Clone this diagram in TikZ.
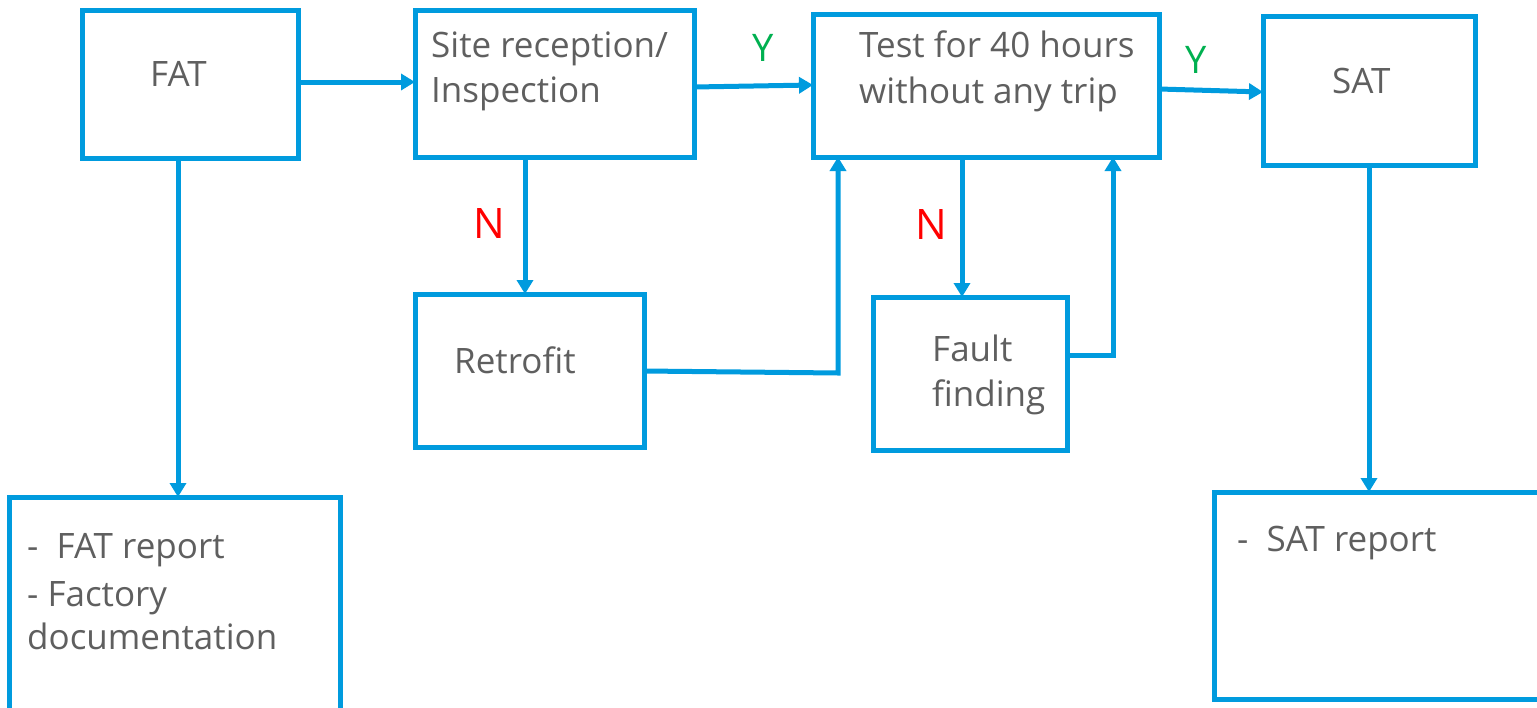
\documentclass[tikz,border=0pt]{standalone}
\usepackage{fontspec}
\setmainfont{Open Sans}
\usetikzlibrary{arrows.meta}
\definecolor{lineblue}{RGB}{0,155,222}
\definecolor{txtgrey}{RGB}{95,95,95}
\definecolor{ygreen}{RGB}{0,176,80}
\definecolor{nred}{RGB}{255,0,0}
\begin{document}
\begin{tikzpicture}[x=1pt,y=-1pt,
  box/.style={draw=lineblue,line width=5pt,inner sep=0pt,outer sep=0pt},
  conn/.style={draw=lineblue,line width=5pt},
  arr/.style={conn,-{Triangle[length=14pt,width=16pt]}},
  txt/.style={anchor=base west,inner sep=0pt,text=txtgrey,font=\fontsize{35}{45}\selectfont},
  yes/.style={anchor=base,inner sep=0pt,text=ygreen,font=\fontsize{38}{40}\selectfont},
  no/.style={anchor=base,inner sep=0pt,text=nred,font=\fontsize{42}{44}\selectfont}]
\useasboundingbox (0,0) rectangle (1537,707);
% boxes
\newcommand{\mkbox}[5]{\node[box,minimum width={#4-#2},minimum height={#5-#3}] (#1) at ({(#2+#4)/2},{(#3+#5)/2}) {};}
\mkbox{fat}{82}{10}{298}{158}
\mkbox{site}{415}{10}{694}{157}
\mkbox{test}{813}{14}{1159}{157}
\mkbox{sat}{1263}{16}{1475}{165}
\mkbox{retro}{415}{294}{644}{447}
\mkbox{fault}{873}{297}{1067}{450}
\mkbox{fatrep}{9}{497}{340}{722}
\mkbox{satrep}{1214}{492}{1550}{699}
% texts
\node[txt] (tfat) at (150,86) {FAT};
\node[txt] (tsite1) at (431,57) {Site reception/};
\node[txt] (tsite2) at (431,102) {Inspection};
\node[txt] (ttest1) at (859,57) {Test for 40 hours};
\node[txt] (ttest2) at (859,103) {without any trip};
\node[txt] (tsat) at (1332,93) {SAT};
\node[txt] (tretro) at (454,373) {Retrofit};
\node[txt] (tfault1) at (932,361) {Fault};
\node[txt] (tfault2) at (932,406) {finding};
\node[txt] (tfr1) at (27,558) {-\ \ FAT report};
\node[txt] (tfr2) at (27,606) {- Factory};
\node[txt] (tfr3) at (27,649) {documentation};
\node[txt] (tsr1) at (1237,551) {-\ \ SAT report};
\node[yes] (y1) at (763,61) {Y};
\node[yes] (y2) at (1196,73) {Y};
\node[no] (n1) at (489,238) {N};
\node[no] (n2) at (931,239) {N};
% connectors
\draw[arr] (fat.east |- 0,82) -- (site.west |- 0,82);
\draw[arr] (site.east |- 0,87) -- (test.west |- 0,85);
\draw[arr] (test.east |- 0,89) -- (sat.west |- 0,92);
\draw[arr] (site.south -| 525,0) -- (retro.north -| 525,0);
\draw[arr] (test.south -| 962,0) -- (fault.north -| 962,0);
\coordinate (c1) at (838,373);
\coordinate (c2) at (1113,355);
\draw[arr] (retro.east |- 0,371) -- (c1) -- (test.south -| c1);
\draw[arr] (fault.east |- c2) -- (c2) -- (test.south -| c2);
\draw[arr] (fat.south -| 178,0) -- (fatrep.north -| 178,0);
\draw[arr] (sat.south -| 1369,0) -- (satrep.north -| 1369,0);
\end{tikzpicture}
\end{document}
